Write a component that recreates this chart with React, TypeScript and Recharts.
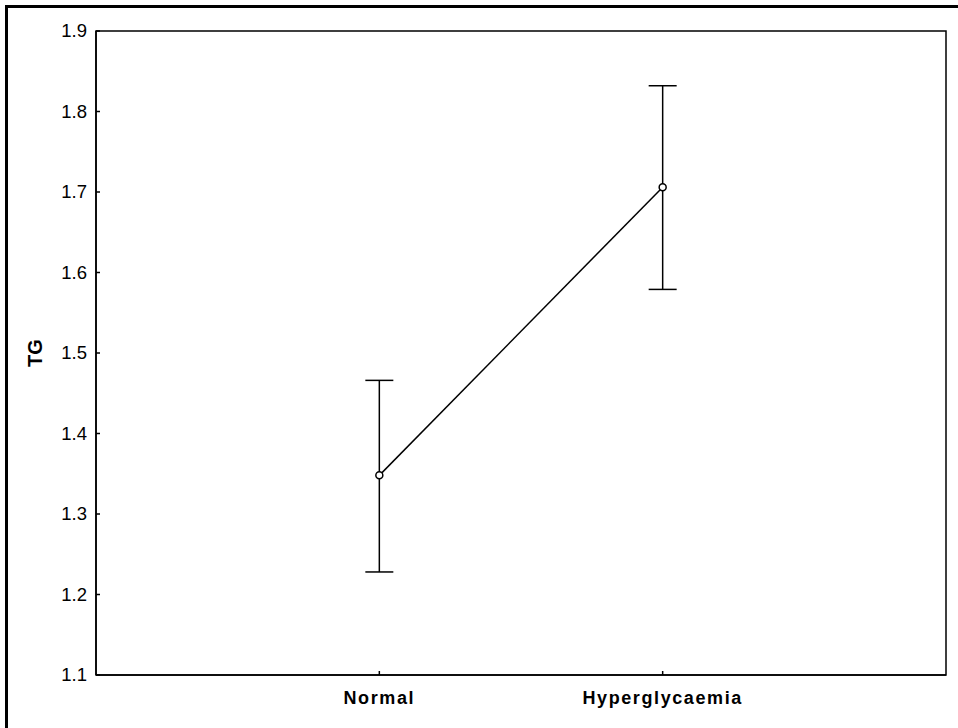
import { ComposedChart, Line, XAxis, YAxis, ErrorBar, ReferenceArea, Label } from 'recharts'

const groups = ['Normal', 'Hyperglycaemia']
const means = [1.348, 1.706]
const lower = [1.228, 1.579]
const upper = [1.466, 1.832]
const yTicks = [1.1, 1.2, 1.3, 1.4, 1.5, 1.6, 1.7, 1.8, 1.9]

const data = groups.map((g, i) => ({
  pos: i + 1,
  name: g,
  tg: means[i],
  err: [means[i] - lower[i], upper[i] - means[i]],
}))

const FONT = 'Liberation Sans, Arial'

// ticks point into the plot, like the Statistica original
const LeftTick = (props: any) => {
  const { x, y, payload } = props
  return (
    <g>
      <line x1={x} x2={x + 4} y1={y} y2={y} stroke="#000" strokeWidth={1.5} />
      <text x={x - 9} y={y} dy={6} textAnchor="end" fontFamily={FONT} fontSize={18.5} fill="#000">
        {Number(payload.value).toFixed(1)}
      </text>
    </g>
  )
}

const RightTick = (props: any) => {
  const { x, y } = props
  return <line x1={x} x2={x - 4} y1={y} y2={y} stroke="#000" strokeWidth={1.5} />
}

const BottomTick = (props: any) => {
  const { x, y, payload } = props
  return (
    <g>
      <line x1={x} x2={x} y1={y} y2={y - 4} stroke="#000" strokeWidth={1.5} />
      <text
        x={x}
        y={y + 29}
        textAnchor="middle"
        fontFamily={FONT}
        fontSize={18}
        fontWeight="bold"
        letterSpacing={1.6}
        fill="#000"
      >
        {groups[payload.value - 1] ?? ''}
      </text>
    </g>
  )
}

export default function App() {
  return (
    <div style={{ position: 'absolute', left: 0, top: 0, width: 958, height: 728, background: '#fff' }}>
      <div
        style={{
          position: 'absolute',
          left: 5,
          top: 5,
          width: 953,
          height: 723,
          borderLeft: '3px solid #000',
          borderTop: '3px solid #000',
          boxSizing: 'border-box',
        }}
      />
      <div style={{ position: 'absolute', left: 0, top: 0 }}>
        <ComposedChart width={958} height={728} data={data} margin={{ top: 31, right: 12, bottom: 23, left: 36 }}>
          <XAxis
            dataKey="pos"
            type="number"
            domain={[0, 3]}
            ticks={[1, 2]}
            height={30}
            tickSize={0}
            tickMargin={0}
            tickLine={false}
            axisLine={{ stroke: '#000', strokeWidth: 1.5 }}
            tick={<BottomTick />}
          />
          <YAxis
            yAxisId="l"
            domain={[1.1, 1.9]}
            ticks={yTicks}
            width={60}
            tickSize={0}
            tickMargin={0}
            tickLine={false}
            axisLine={{ stroke: '#000', strokeWidth: 1.5 }}
            tick={<LeftTick />}
          >
            <Label
              value="TG"
              angle={-90}
              position="insideLeft"
              offset={-1}
              style={{ fontFamily: FONT, fontSize: 20, fontWeight: 'bold', fill: '#000', textAnchor: 'middle' }}
            />
          </YAxis>
          <YAxis
            yAxisId="r"
            orientation="right"
            domain={[1.1, 1.9]}
            ticks={yTicks}
            width={0}
            tickSize={0}
            tickMargin={0}
            tickLine={false}
            axisLine={{ stroke: '#000', strokeWidth: 1.5 }}
            tick={<RightTick />}
          />
          <ReferenceArea
            yAxisId="l"
            x1={0}
            x2={3}
            y1={1.1}
            y2={1.9}
            fill="none"
            stroke="#000"
            strokeWidth={1.5}
          />
          <Line
            yAxisId="l"
            dataKey="tg"
            stroke="#000"
            strokeWidth={1.5}
            dot={{ r: 3.5, stroke: '#000', strokeWidth: 1.5, fill: '#fff' }}
            isAnimationActive={false}
          >
            <ErrorBar dataKey="err" direction="y" width={14} stroke="#000" strokeWidth={1.5} isAnimationActive={false} />
          </Line>
        </ComposedChart>
      </div>
    </div>
  )
}
